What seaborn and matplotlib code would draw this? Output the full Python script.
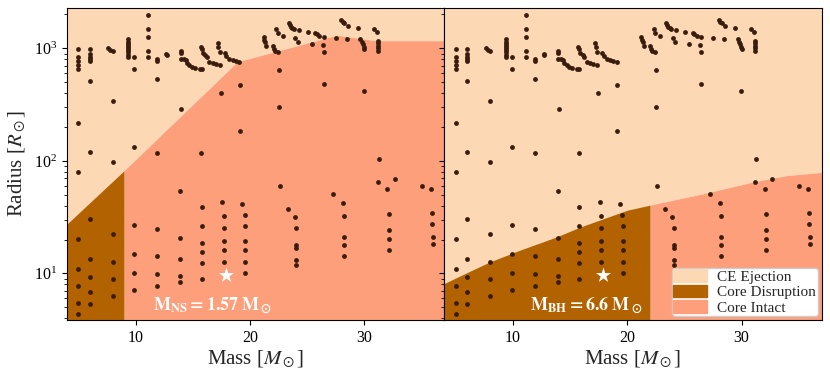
import numpy as np
import pandas as pd
import seaborn as sns
import matplotlib.pyplot as plt
from matplotlib.patches import Patch

# stellar models (mass in Msun, radius in Rsun) - same grid in both panels
model_mass = [
    5.0, 5.0, 5.0, 5.0, 5.0, 5.0, 5.0, 5.0, 5.0, 5.0, 5.0, 5.0,
    6.0, 6.0, 6.0, 6.0, 6.0, 6.0, 6.0, 6.0, 6.0, 6.0, 6.0, 6.0,
    7.6, 7.8, 8.0, 8.0, 8.0, 8.0, 8.0, 8.0, 8.0,
    9.35, 9.35, 9.35, 9.35, 9.35, 9.35, 9.35, 9.35, 9.35,
    9.9, 9.9, 9.9, 9.9, 9.9, 9.9, 9.9,
    11.1, 11.1, 11.1, 11.1, 11.1,
    11.9, 11.9, 11.9, 11.9, 11.9, 11.9, 11.9, 11.9,
    12.7, 12.75,
    13.98, 13.98, 13.95, 14.19, 14.37, 14.48, 14.71, 14.94, 15.2, 15.59, 15.79,
    14.0, 13.9, 13.9, 13.9, 13.9, 13.9,
    15.73, 15.79, 15.88, 16.11, 16.23, 16.46, 16.75, 17.04, 17.34,
    15.76, 15.8, 15.8, 15.8, 15.8, 15.8, 15.8,
    17.19, 17.25, 17.34, 17.83, 17.92, 18.21, 18.5, 18.79, 19.08,
    17.48, 17.57, 17.71, 17.71, 17.71, 17.71, 17.71,
    19.11, 19.11, 19.32, 19.55, 19.6, 19.6, 19.6, 19.6, 19.6,
    21.2, 21.26, 21.35, 21.44,
    22.0, 22.08, 22.17, 22.46,
    22.31, 22.43, 22.9,
    22.52, 22.52, 22.6,
    23.3, 23.9, 24.06, 24.06, 24.06, 24.06, 24.06,
    23.39, 23.48, 23.6, 23.71, 23.83, 24.26,
    23.97, 24.17,
    25.08, 25.43,
    25.72, 25.87, 26.07, 26.45,
    26.36, 26.45, 26.45,
    27.27, 27.53,
    27.99, 28.1, 28.25, 28.54,
    28.49,
    28.1, 28.2, 28.2, 28.2, 28.2,
    29.42,
    29.65, 29.8, 29.88, 29.94, 30.0,
    29.94,
    30.81, 31.1,
    31.2, 31.2, 31.2, 31.2, 31.2,
    31.26, 31.2, 32.0,
    32.16, 32.16, 32.16, 32.16,
    32.68,
    35.04, 35.8,
    35.9, 35.9, 36.0, 36.0,
]
model_radius = [
    986, 832, 777, 711, 655, 218, 79, 20.2, 10.9, 7.7, 5.5, 4.4,
    986, 890, 844, 804, 766, 513, 120, 30.3, 13.4, 9.2, 6.8, 5.3,
    1000, 975, 950, 343, 97, 22.2, 12.7, 9.0, 6.3,
    1200, 1150, 1100, 1050, 1000, 960, 920, 880, 840,
    832, 655, 132, 26.8, 14.8, 10.1, 7.1,
    1963, 1495, 1270, 947, 832,
    798, 771, 530, 116.6, 24.8, 14.3, 9.9, 7.8,
    891, 873,
    953, 903, 809, 809, 787, 735, 712, 688, 673, 655, 651,
    287, 54.2, 20.7, 13.5, 9.5, 8.4,
    1035, 980, 903, 873, 832, 761, 735, 721, 707,
    117, 38.7, 26.4, 18.5, 15.4, 12.4, 9.0,
    1108, 1021, 934, 915, 861, 804, 787, 771, 761,
    398, 43, 32.3, 25.5, 19.3, 16.1, 12.7,
    472, 185, 41.6, 33.2, 26.4, 19.4, 16.1, 12.7, 10.0,
    1252, 1186, 1130, 1056,
    1049, 980, 953, 934,
    1475, 1360, 1288,
    641, 303, 59.7,
    37.1, 31.5, 25.3, 17.9, 16.7, 13.1, 12.0,
    1668, 1611, 1558, 1527, 1495, 1456,
    1227, 1146,
    1406, 1093,
    1378, 1331, 1296, 1270,
    1070, 934, 479,
    50.7, 1236,
    1787, 1726, 1668, 1589,
    1219,
    42.5, 32.3, 21.1, 17.9, 14.2,
    1527,
    1202, 1146, 1093, 1035, 980,
    421,
    1475, 1397,
    1170, 1108, 1049, 1000, 947,
    103.8, 64.4, 56.1,
    33.7, 24.3, 20.2, 16.3,
    68.5,
    59.7, 55.8,
    34.1, 27.3, 21.1, 18.2,
]

# example system (star marker)
example_mass = [17.9]
example_radius = [9.6]

# CE ejection boundary, NS companion
ns_mass = [4.0, 9.0, 18.9, 27.6, 31.0, 37.0]
ns_ce_radius = [27.5, 82, 760, 1310, 1170, 1170]
ns_disrupt_max = 9.0

# CE ejection boundary, BH companion
bh_mass = [4.0, 6.0, 8.0, 10.6, 13.8, 15.9, 20.0, 22.0, 26.6, 31.0, 33.9, 37.0]
bh_ce_radius = [8.15, 10.2, 12.7, 16.1, 21.1, 25.9, 36.5, 40.5, 51, 65, 74, 79]
bh_disrupt_max = 22.0

panel_labels = [r"$\mathbf{M_{NS} = 1.57\ M_\odot}$",
                r"$\mathbf{M_{BH} = 6.6\ M_\odot}$"]
region_names = ["CE Ejection", "Core Disruption", "Core Intact"]
region_colors = ["#fdd8b5", "#b36200", "#fd9f7b"]
dot_color = "#3a1c0c"

models = pd.DataFrame({"mass": model_mass, "radius": model_radius})

sns.set_style("ticks")
plt.rcParams["font.family"] = ["Liberation Serif", "DejaVu Serif"]
plt.rcParams["mathtext.fontset"] = "stix"
plt.rcParams["xtick.labelsize"] = 11.5
plt.rcParams["ytick.labelsize"] = 11.5
plt.rcParams["axes.edgecolor"] = "black"
plt.rcParams["xtick.color"] = "black"
plt.rcParams["ytick.color"] = "black"

fig, axes = plt.subplots(1, 2, sharey=True, figsize=(8.3, 3.77), dpi=100)
fig.subplots_adjust(left=0.0807, right=0.990, top=0.978, bottom=0.151, wspace=0)

ylo, yhi = 3.85, 2270
for ax, mass, ce_r, split, label in zip(
        axes, [ns_mass, bh_mass], [ns_ce_radius, bh_ce_radius],
        [ns_disrupt_max, bh_disrupt_max], panel_labels):
    m = np.array(mass)
    r = np.array(ce_r)
    ax.fill_between(m, r, 1e4, color=region_colors[0], lw=0)
    ax.fill_between(m, 1, r, where=m <= split, color=region_colors[1], lw=0)
    ax.fill_between(m, 1, r, where=m >= split, color=region_colors[2], lw=0)

    sns.scatterplot(data=models, x="mass", y="radius", ax=ax, color=dot_color,
                    s=12, linewidth=0, zorder=3)
    ax.scatter(example_mass, example_radius, marker="*", s=130, color="white",
               linewidths=0, zorder=4)

    ax.text(0.228, 0.045, label, transform=ax.transAxes, color="white",
            fontsize=13, ha="left", va="center")

    ax.set_yscale("log")
    ax.set_xlim(4.0, 37.0)
    ax.set_ylim(ylo, yhi)
    ax.set_xticks([10, 20, 30])
    ax.set_xlabel(r"Mass [$M_\odot$]", fontsize=15, labelpad=2)
    ax.set_ylabel("")
    ax.tick_params(axis="x", which="minor", bottom=False)

axes[0].set_ylabel(r"Radius [$R_\odot$]", fontsize=15, labelpad=4)

handles = [Patch(color=c, label=n) for c, n in zip(region_colors, region_names)]
axes[1].legend(handles=handles, loc="lower right", fontsize=11,
               borderaxespad=0.25, borderpad=0.1, handlelength=2.2,
               handleheight=0.9, handletextpad=0.7, labelspacing=0.05,
               framealpha=1, edgecolor="#cccccc", fancybox=True)

fig.savefig("out.png", dpi=100)
